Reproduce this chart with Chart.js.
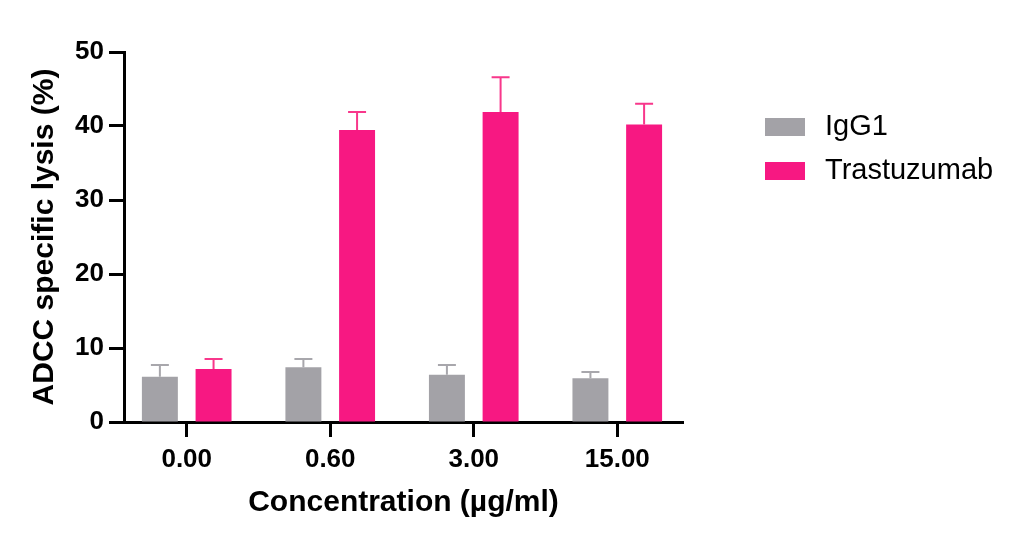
<!DOCTYPE html>
<html>
<head>
<meta charset="utf-8">
<script src="https://cdn.jsdelivr.net/npm/chart.js@4/dist/chart.umd.min.js"></script>
<style>
  html, body { margin: 0; padding: 0; background: #fff; }
  #wrap { width: 1024px; height: 547px; position: relative; }
</style>
</head>
<body>
<div id="wrap"><canvas id="adcc"></canvas></div>
<script>
// values
const concentrations = ["0.00", "0.60", "3.00", "15.00"];
const seriesNames = ["IgG1", "Trastuzumab"];
const igg1Mean = [6.1, 7.4, 6.4, 5.9];
const igg1Sd = [1.6, 1.1, 1.3, 0.85];
const trastMean = [7.15, 39.45, 41.9, 40.2];
const trastSd = [1.35, 2.45, 4.7, 2.8];
const yTicks = [0, 10, 20, 30, 40, 50];

const FONT = '"Liberation Sans", Arial, Helvetica, sans-serif';
const GREY = "#a3a2a7", PINK = "#f71882";

// upper-only SD whiskers, prism style
const errorBars = {
  id: "errorBars",
  afterDatasetsDraw(chart) {
    const ctx = chart.ctx, y = chart.scales.y;
    chart.data.datasets.forEach((ds, di) => {
      const meta = chart.getDatasetMeta(di);
      meta.data.forEach((bar, i) => {
        const top = y.getPixelForValue(ds.data[i].y + ds.sd[i]);
        const half = bar.width / 4;
        ctx.save();
        ctx.strokeStyle = ds.errColor;
        ctx.lineWidth = 2;
        ctx.beginPath();
        ctx.moveTo(bar.x, bar.y);
        ctx.lineTo(bar.x, top);
        ctx.moveTo(bar.x - half, top);
        ctx.lineTo(bar.x + half, top);
        ctx.stroke();
        ctx.restore();
      });
    });
  }
};

// legend on the right, drawn by hand so it sits where prism put it
const sideLegend = {
  id: "sideLegend",
  afterDraw(chart) {
    const ctx = chart.ctx, area = chart.chartArea;
    const x0 = area.right + 82, y0 = area.top + 75;
    ctx.save();
    ctx.font = "29px " + FONT;
    ctx.textBaseline = "middle";
    ctx.fillStyle = "#000";
    chart.data.datasets.forEach((ds, i) => {
      const cy = y0 + i * 44;
      ctx.fillStyle = ds.backgroundColor;
      ctx.fillRect(x0, cy - 9, 40, 18);
      ctx.fillStyle = "#000";
      ctx.fillText(ds.label, x0 + 60, cy);
    });
    ctx.restore();
  }
};

const toPoints = arr => arr.map((v, i) => ({ x: i, y: v }));

new Chart(document.getElementById("adcc"), {
  type: "bar",
  data: {
    datasets: [
      { label: seriesNames[0], data: toPoints(igg1Mean), sd: igg1Sd,
        backgroundColor: GREY, errColor: "#a8a7ac" },
      { label: seriesNames[1], data: toPoints(trastMean), sd: trastSd,
        backgroundColor: PINK, errColor: "#f8378b" }
    ]
  },
  options: {
    responsive: true,
    maintainAspectRatio: false,
    animation: false,
    devicePixelRatio: 1,
    categoryPercentage: 0.748,
    barPercentage: 0.67,
    layout: { padding: { left: 20, right: 341, top: 52, bottom: 10 } },
    plugins: { legend: { display: false }, tooltip: { enabled: false } },
    scales: {
      x: {
        type: "linear",
        min: -0.437,
        max: 3.458,
        offset: false,
        afterBuildTicks: s => { s.ticks = concentrations.map((_, i) => ({ value: i })); },
        afterFit: s => { s.height = 115; },
        border: { color: "#000", width: 3 },
        grid: { offset: false, drawOnChartArea: false, tickLength: 15, tickWidth: 3, tickColor: "#000" },
        ticks: {
          includeBounds: false,
          padding: 7,
          color: "#000",
          font: { family: FONT, size: 26, weight: "bold" },
          callback: v => concentrations[v]
        },
        title: {
          display: true,
          text: "Concentration (µg/ml)",
          color: "#000",
          font: { family: FONT, size: 30, weight: "bold" },
          padding: { top: 0, bottom: 16 }
        }
      },
      y: {
        min: 0,
        max: 50,
        afterBuildTicks: s => { s.ticks = yTicks.map(v => ({ value: v })); },
        afterFit: s => { s.width = 104; },
        border: { color: "#000", width: 3 },
        grid: { drawOnChartArea: false, tickLength: 15, tickWidth: 3, tickColor: "#000" },
        ticks: {
          padding: 5,
          color: "#000",
          font: { family: FONT, size: 26, weight: "bold" }
        },
        title: {
          display: true,
          text: "ADCC specific lysis (%)",
          color: "#000",
          font: { family: FONT, size: 30, weight: "bold" },
          padding: { top: 7, bottom: 0 }
        }
      }
    }
  },
  plugins: [errorBars, sideLegend]
});
</script>
</body>
</html>
